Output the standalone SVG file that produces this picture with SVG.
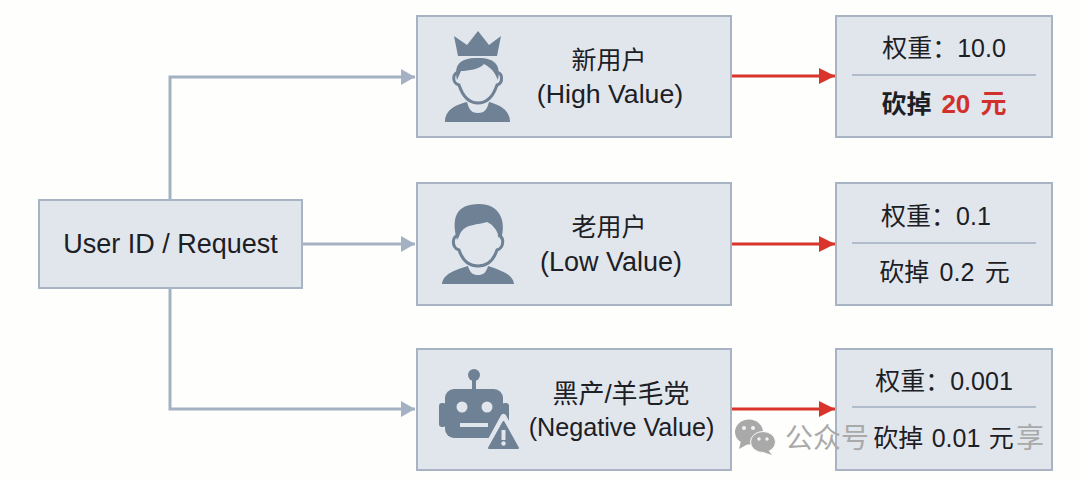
<svg xmlns="http://www.w3.org/2000/svg" width="1080" height="481" viewBox="0 0 1080 481">
<defs>
<marker id="ag" markerUnits="userSpaceOnUse" markerWidth="15" markerHeight="16" refX="14" refY="8" orient="auto"><path d="M0 0L14 8L0 16Z" fill="#a4b1c2"/></marker>
<marker id="ar" markerUnits="userSpaceOnUse" markerWidth="16" markerHeight="16" refX="16" refY="8" orient="auto"><path d="M0 0L16 8L0 16Z" fill="#d8342b"/></marker>
</defs>
<style>
.box{fill:#e1e6ed;stroke:#a8b4c4;stroke-width:2}
.g{fill:none;stroke:#a4b1c2;stroke-width:3}
.r{fill:none;stroke:#d8342b;stroke-width:3}
.div{stroke:#a0afc2;stroke-width:1.5}
.t{font-family:"Liberation Sans","Noto Sans CJK SC",sans-serif;font-size:25px;fill:#1c2024;text-anchor:middle}
.i{fill:#6f8194}
.o{fill:none;stroke:#6f8194;stroke-width:3}
.f{fill:#e1e6ed}
.wm{font-family:"Noto Sans CJK SC",sans-serif;font-size:28px;fill:#a9a9a9}
.wi{fill:#a9a9a9}
.we{fill:#f2f2f2}
</style>
<rect width="1080" height="481" fill="#fefefc"/>
<g id="connectors">
<path class="g" d="M170 200V77H415" marker-end="url(#ag)"/>
<path class="g" d="M303 244H415" marker-end="url(#ag)"/>
<path class="g" d="M170 288V409H415" marker-end="url(#ag)"/>
<path class="r" d="M731 76H835" marker-end="url(#ar)"/>
<path class="r" d="M731 244H835" marker-end="url(#ar)"/>
<path class="r" d="M731 409H835" marker-end="url(#ar)"/>
</g>
<g id="source"><rect class="box" x="39" y="200" width="263" height="88"/><text class="t" x="170.500" y="253" font-size="27" style="font-size:27px">User ID / Request</text></g>
<g id="new-user">
<rect class="box" x="417" y="16" width="314" height="121"/>
<path class="i" d="M454 36L467 45L478 31L489 45L501 36L497 56H458Z"/>
<path class="i" d="M457 80C454 66 458 58 478 58C496 58 501 66 498 80L495 74C492 69 488 66 484 64C480 69 468 71 461 71Z"/>
<path class="o" d="M459 73C453 71 451 83 459 85C463 97 470 103 478 103C486 103 493 97 497 85C504 83 502 71 497 73"/>
<path class="i" d="M445 122C445 110 455 105 467 102C469 110 472 113 478 113C484 113 487 110 489 102C500 105 510 110 510 122Z"/>
<text class="t" x="609" y="69">新用户</text><text class="t" style="font-size:26.700px" x="610" y="103">(High Value)</text>
</g>
<g id="old-user">
<rect class="box" x="417" y="183" width="314" height="122"/>
<path class="i" d="M457 240C451 218 456 204 479 204C499 204 507 220 501 240L498 234C496 229 492 224 487 222C478 225 466 224 461 232Z"/>
<path class="o" d="M459 236C452 234 451 248 459 250C463 262 470 266 478 266C486 266 493 262 497 250C505 248 504 234 498 236"/>
<path class="i" d="M442 284C443 274 455 270 468 266C470 273 473 275 478 275C483 275 486 273 488 266C500 270 513 274 514 284Z"/>
<text class="t" x="609" y="236">老用户</text><text class="t" style="font-size:27px" x="611" y="271">(Low Value)</text>
</g>
<g id="bad-user">
<rect class="box" x="417" y="349" width="314" height="121"/>
<circle class="i" cx="474" cy="375" r="6"/><rect class="i" x="472" y="379" width="4" height="11"/>
<rect class="i" x="445" y="389" width="58" height="49" rx="9"/><rect class="i" x="439" y="403" width="7" height="24" rx="3"/><rect class="i" x="502" y="403" width="7" height="24" rx="3"/>
<circle class="f" cx="462" cy="407" r="5.500"/><circle class="f" cx="487" cy="407" r="5.500"/><rect class="f" x="460" y="423" width="28" height="4"/>
<path class="i" stroke="#e1e6ed" stroke-width="6" stroke-linejoin="round" d="M503.500 417L522 451H485Z"/>
<path class="i" stroke="#6f8194" stroke-width="2" stroke-linejoin="round" d="M503.500 422L518 448H489Z"/>
<rect class="f" x="501.500" y="430" width="4" height="10"/><circle class="f" cx="503.500" cy="443.500" r="2.200"/>
<text class="t" style="font-size:26px" x="621" y="403">黑产/羊毛党</text><text class="t" style="font-size:25.200px" x="621.500" y="436">(Negative Value)</text>
</g>
<g id="w1"><rect class="box" x="836" y="16" width="216" height="121"/><line class="div" x1="852" y1="75" x2="1036" y2="75"/>
<text class="t" x="944" y="57">权重：10.0</text>
<text class="t" x="944" y="113" font-weight="700" word-spacing="3">砍掉 <tspan fill="#d2302a" style="font-size:26px">20 元</tspan></text></g>
<g id="w2"><rect class="box" x="836" y="183" width="216" height="122"/><line class="div" x1="852" y1="243" x2="1036" y2="243"/>
<text class="t" x="936" y="225">权重：0.1</text><text class="t" x="944.500" y="281" word-spacing="3.500">砍掉 0.2 元</text></g>
<g id="w3"><rect class="box" x="836" y="349" width="216" height="121"/><line class="div" x1="852" y1="407" x2="1036" y2="407"/>
<text class="t" x="944" y="390">权重：0.001</text><text class="t" x="943.500" y="447" word-spacing="1.500">砍掉 0.01 元</text></g>
<g id="watermark">
<ellipse class="wi" cx="749" cy="432" rx="14" ry="12.500"/><path class="wi" d="M741 441L739 449L748 444Z"/>
<ellipse class="wi" cx="763" cy="442" rx="12.500" ry="10.500" stroke="#fefefc" stroke-width="1"/><path class="wi" d="M768 450L772 455L763 452Z"/>
<circle class="we" cx="744" cy="428" r="2"/><circle class="we" cx="753" cy="428" r="2"/><circle class="we" cx="759" cy="439" r="1.700"/><circle class="we" cx="767" cy="439" r="1.700"/>
<text class="wm" x="785" y="448">公众号</text><text class="wm" x="1016" y="448">享</text>
</g>
</svg>
